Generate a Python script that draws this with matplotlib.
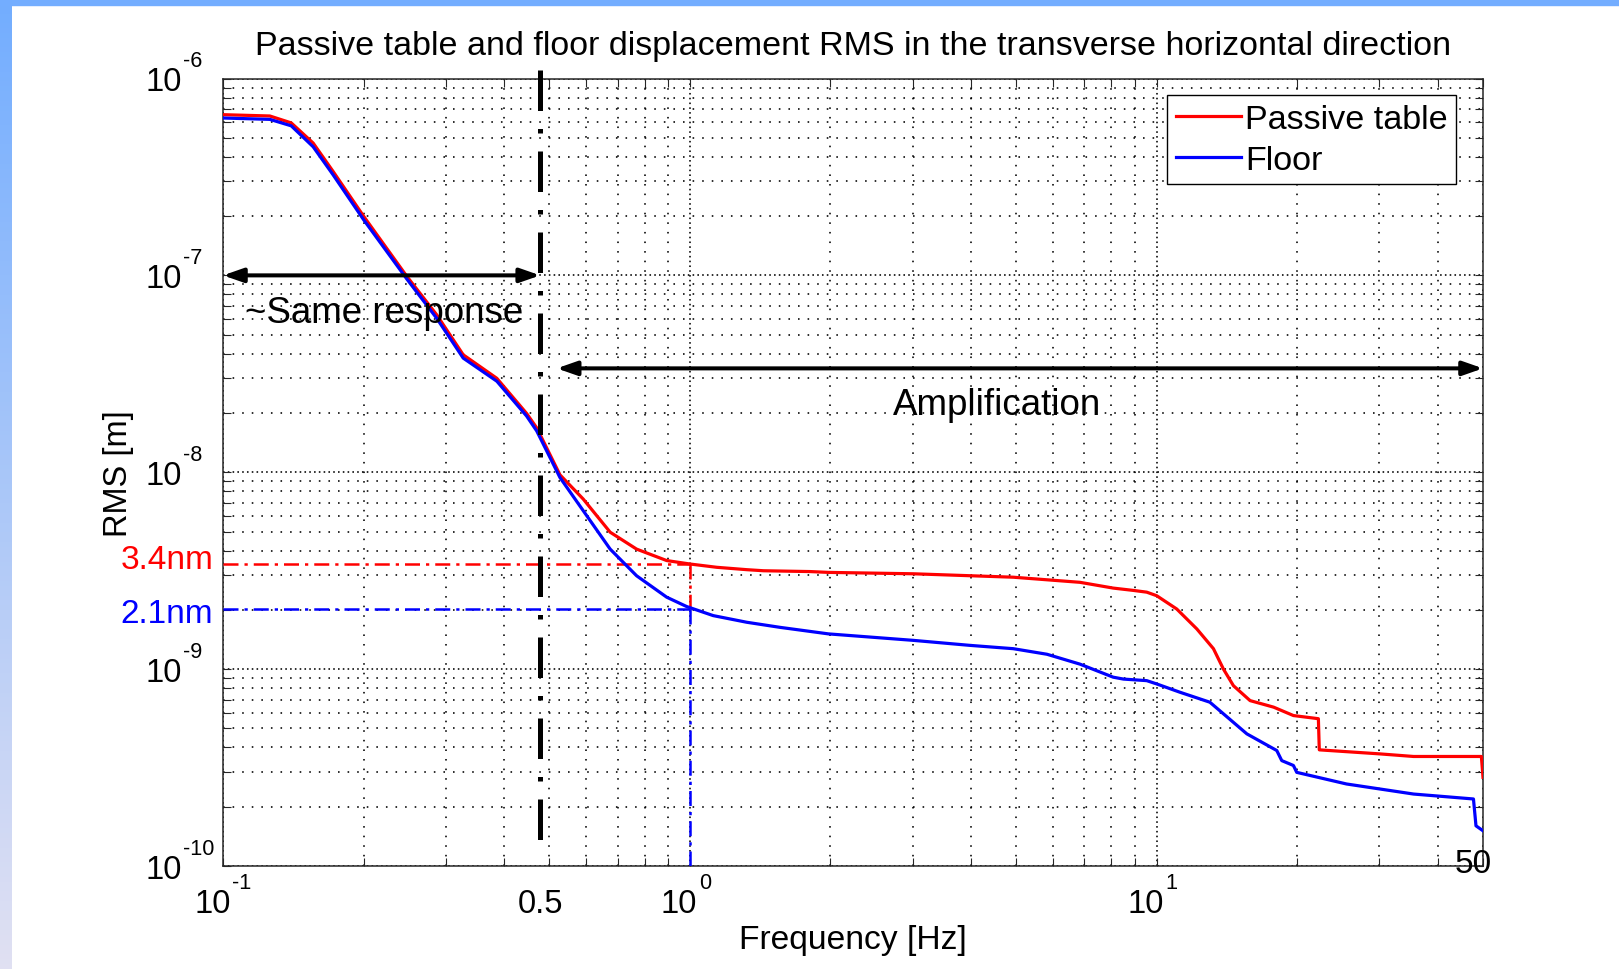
import matplotlib as mpl
mpl.use('Agg')
import matplotlib.pyplot as plt
import numpy as np
from matplotlib.ticker import LogLocator, NullFormatter
from matplotlib.patches import Rectangle

plt.rcParams['font.family'] = ['Liberation Sans', 'DejaVu Sans']

# cumulative RMS
freq_table = [0.1, 0.126, 0.14, 0.156, 0.172, 0.2, 0.2475, 0.287, 0.327, 0.386, 0.447, 0.47,
              0.527, 0.591, 0.675, 0.769, 0.892, 1.0, 1.142, 1.324, 1.438, 1.81, 1.981, 3.01,
              4.93, 6.85, 8.07, 8.92, 9.52, 10.0, 11.04, 12.19, 13.23, 13.9, 14.6, 15.85,
              17.8, 19.63, 22.2, 22.3, 30.1, 35.5, 49.6, 50.0]
rms_table = [6.55e-7, 6.45e-7, 5.95e-7, 4.7e-7, 3.38e-7, 2.0e-7, 9.9e-8, 6.3e-8, 3.95e-8, 3.0e-8,
             1.99e-8, 1.68e-8, 9.7e-9, 7.31e-9, 4.96e-9, 4.07e-9, 3.56e-9, 3.42e-9, 3.29e-9,
             3.2e-9, 3.16e-9, 3.13e-9, 3.1e-9, 3.05e-9, 2.93e-9, 2.76e-9, 2.58e-9, 2.51e-9,
             2.46e-9, 2.36e-9, 2.02e-9, 1.6e-9, 1.27e-9, 1.0e-9, 8.24e-10, 6.92e-10, 6.41e-10,
             5.81e-10, 5.6e-10, 3.89e-10, 3.71e-10, 3.6e-10, 3.6e-10, 2.82e-10]

freq_floor = [0.1, 0.126, 0.14, 0.156, 0.172, 0.2, 0.2475, 0.287, 0.327, 0.386, 0.447, 0.47,
              0.527, 0.591, 0.675, 0.769, 0.892, 0.984, 1.122, 1.324, 1.56, 1.981, 3.01, 3.985,
              4.93, 5.82, 6.85, 8.07, 8.49, 9.52, 10.0, 11.2, 13.0, 15.6, 18.08, 18.53, 19.63,
              19.95, 25.5, 35.5, 47.7, 48.3, 50.0]
rms_floor = [6.3e-7, 6.2e-7, 5.75e-7, 4.5e-7, 3.25e-7, 1.92e-7, 9.6e-8, 6.05e-8, 3.8e-8, 2.9e-8,
             1.93e-8, 1.62e-8, 9.4e-9, 6.38e-9, 4.07e-9, 2.98e-9, 2.32e-9, 2.08e-9, 1.87e-9,
             1.73e-9, 1.63e-9, 1.51e-9, 1.40e-9, 1.32e-9, 1.27e-9, 1.19e-9, 1.06e-9, 9.1e-10,
             8.9e-10, 8.74e-10, 8.41e-10, 7.64e-10, 6.79e-10, 4.69e-10, 3.86e-10, 3.43e-10,
             3.24e-10, 2.99e-10, 2.61e-10, 2.32e-10, 2.19e-10, 1.6e-10, 1.51e-10]

x_tick_vals = [0.1, 1.0, 10.0]
x_tick_exps = ['-1', '0', '1']
y_tick_vals = [1e-10, 1e-9, 1e-8, 1e-7, 1e-6]
y_tick_exps = ['-10', '-9', '-8', '-7', '-6']

split_freq = 0.478      # the hand-drawn "0.5" divider
table_level = 3.4e-9
floor_level = 2.02e-9
same_arrow = [0.1, 0.478, 1e-7]
ampl_arrow = [0.5186, 50.0, 3.37e-8]

title = 'Passive table and floor displacement RMS in the transverse horizontal direction'
PX = 0.72   # points per pixel at dpi 100

fig = plt.figure(figsize=(16.19, 9.70), dpi=100)

# slide frame: blue band on top, gradient band on the left
fig.patches.append(Rectangle((0, 1 - 6/970), 1, 6/970, transform=fig.transFigure,
                             color=(0.45, 0.68, 1.0), zorder=0))
bg = fig.add_axes([0, 0, 11/1619, 1])
top_c = np.array([0.45, 0.68, 1.0])
bot_c = np.array([0.88, 0.88, 0.95])
t = np.linspace(0, 1, 200)[:, None]
grad = (top_c[None, :] * (1 - t) + bot_c[None, :] * t)[:, None, :]
bg.imshow(grad, aspect='auto', extent=[0, 1, 0, 1])
bg.axis('off')

ax = fig.add_axes([223/1619, 103/970, 1260/1619, 787.5/970])
ax.set_xscale('log')
ax.set_yscale('log')

ax.plot(freq_table, rms_table, color='red', lw=2.3, label='Passive table', zorder=4)
ax.plot(freq_floor, rms_floor, color='blue', lw=2.3, label='Floor', zorder=4)

ax.set_xlim(0.1, 50)
ax.set_ylim(1e-10, 1e-6)

for axis in [ax.xaxis, ax.yaxis]:
    axis.set_major_locator(LogLocator(base=10, numticks=10))
    axis.set_minor_locator(LogLocator(base=10, subs=np.arange(2, 10), numticks=20))
    axis.set_major_formatter(NullFormatter())
    axis.set_minor_formatter(NullFormatter())

ax.set_axisbelow(True)
ax.grid(True, which='major', ls=(0, (1, 2)), lw=1.15, color='k')
ax.grid(True, which='minor', ls=(0, (1, 5)), lw=1.15, color='k')
ax.tick_params(which='both', direction='in', top=True, right=True, length=6, width=0.8,
               color='#262626')
for s in ax.spines.values():
    s.set_color('#262626')
    s.set_linewidth(1.1)

# MATLAB-style tick labels: base "10" plus a raised exponent
fs_tick, fs_exp = 23.5, 15.6
for v, e in zip(y_tick_vals, y_tick_exps):
    base = ax.annotate('10', xy=(0, v), xycoords=('axes fraction', 'data'),
                       xytext=(-41.3 * PX, -11.6 * PX), textcoords='offset points',
                       ha='right', va='baseline', fontsize=fs_tick, annotation_clip=False)
    ax.annotate(e, xy=(1, 1), xycoords=base, xytext=(1.5 * PX, 0), textcoords='offset points',
                ha='left', va='baseline', fontsize=fs_exp, annotation_clip=False)
for v, e in zip(x_tick_vals, x_tick_exps):
    base = ax.annotate('10', xy=(v, 0), xycoords=('data', 'axes fraction'),
                       xytext=(7.5 * PX, -46.3 * PX), textcoords='offset points',
                       ha='right', va='baseline', fontsize=fs_tick, annotation_clip=False)
    ax.annotate(e, xy=(1, 1), xycoords=base, xytext=(1.5 * PX, 0), textcoords='offset points',
                ha='left', va='baseline', fontsize=fs_exp, annotation_clip=False)

# reference levels
dashdot = (0, (6.0, 2.4, 1.3, 2.4))
ax.plot([0.1, 1.0], [table_level, table_level], color='red', lw=1.8, ls=dashdot, zorder=3)
ax.plot([1.0, 1.0], [table_level, floor_level], color='red', lw=1.8, ls=dashdot, zorder=3)
ax.plot([0.1, 1.0], [floor_level, floor_level], color='blue', lw=1.8, ls=dashdot, zorder=3)
ax.plot([1.0, 1.0], [floor_level, 1e-10], color='blue', lw=1.8, ls=dashdot, zorder=3)

ax.plot([split_freq, split_freq], [1.109e-6, 1.124e-10], color='k', lw=3.6,
        ls=(0, (8.1, 3.6, 0.9, 3.6)), clip_on=False, zorder=5)

arrow = dict(arrowstyle='<|-|>,head_length=1.2,head_width=0.42', lw=2.9, color='k',
             shrinkA=0, shrinkB=0, mutation_scale=10)
ax.annotate('', xy=(same_arrow[0], same_arrow[2]), xytext=(same_arrow[1], same_arrow[2]),
            arrowprops=arrow, annotation_clip=False, zorder=6)
ax.annotate('', xy=(ampl_arrow[0], ampl_arrow[2]), xytext=(ampl_arrow[1], ampl_arrow[2]),
            arrowprops=arrow, annotation_clip=False, zorder=6)

ax.text(0.2213, 5.78e-8, '~Same response', fontsize=26.5, ha='center', va='baseline', zorder=7)
ax.text(4.56, 1.98e-8, 'Amplification', fontsize=26.5, ha='center', va='baseline', zorder=7)
ax.text(0.0954, 3.25e-9, '3.4nm', color='red', fontsize=24, ha='right', va='baseline')
ax.text(0.0954, 1.73e-9, '2.1nm', color='blue', fontsize=24, ha='right', va='baseline')
ax.text(47.6, 9.28e-11, '50', fontsize=24, ha='center', va='baseline', clip_on=False, zorder=7)
ax.annotate('0.5', xy=(split_freq, 0), xycoords=('data', 'axes fraction'),
            xytext=(0, -33.1), textcoords='offset points', ha='center', va='baseline',
            fontsize=23.5, annotation_clip=False)

ax.text(0.5, 1.0311, title, transform=ax.transAxes, ha='center', va='baseline', fontsize=24.5)
ax.set_xlabel('Frequency [Hz]', fontsize=24.2)
ax.set_ylabel('RMS [m]', fontsize=23.5)
ax.xaxis.set_label_coords(0.5, -0.0934)
ax.xaxis.label.set_va('center')
ax.yaxis.set_label_coords(-0.0828, 0.5)
ax.yaxis.label.set_va('center')

leg = ax.legend(loc='upper right', bbox_to_anchor=(0.9786, 0.979), fontsize=24.6, frameon=True,
                fancybox=False, edgecolor='k', framealpha=1, borderaxespad=0,
                handlelength=1.9, handletextpad=0.12, borderpad=0.25, labelspacing=0.3)
leg.get_frame().set_linewidth(1.0)

fig.savefig('out.png', dpi=100)
